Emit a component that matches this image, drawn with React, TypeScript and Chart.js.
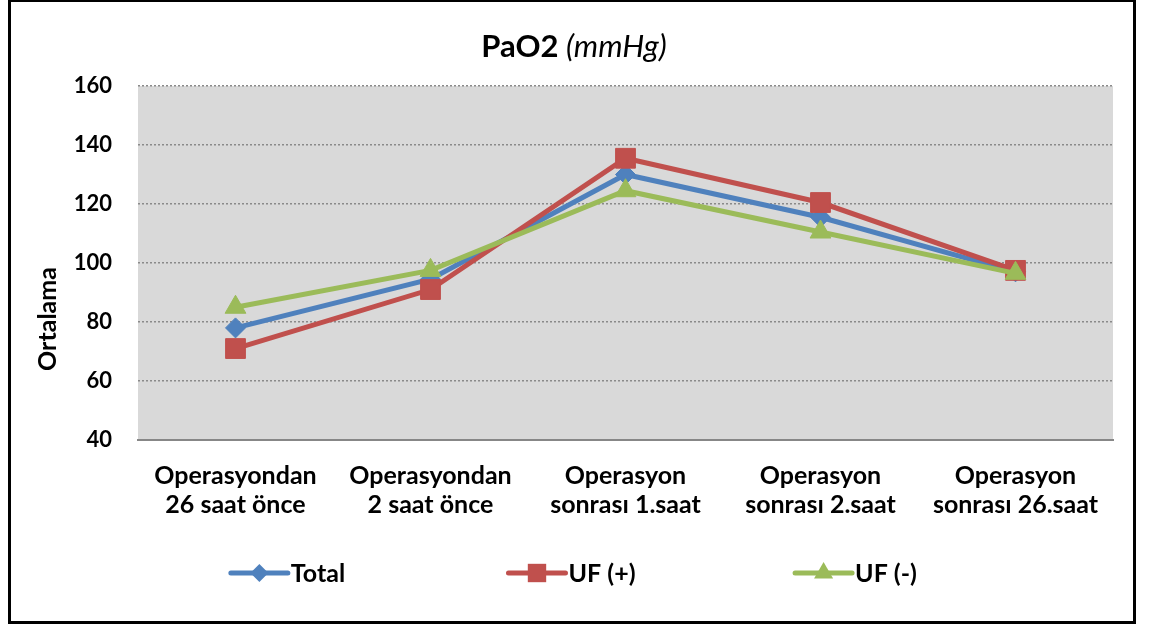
import React, { useEffect, useRef } from "react";
import { Chart, registerables } from "chart.js";

Chart.register(...registerables);

const categories: string[][] = [
  ["Operasyondan", "26 saat önce"],
  ["Operasyondan", "2 saat önce"],
  ["Operasyon", "sonrası 1.saat"],
  ["Operasyon", "sonrası 2.saat"],
  ["Operasyon", "sonrası 26.saat"],
];
const seriesNames = ["Total", "UF (+)", "UF (-)"];
const totalValues = [78, 94.5, 130, 115.5, 97];
const ufPlusValues = [71, 91, 135.5, 120.5, 97.5];
const ufMinusValues = [85, 97.5, 124.5, 110.5, 96.5];
const yMin = 40;
const yMax = 160;
const yStep = 20;
const titleMain = "PaO2";
const titleUnit = "(mmHg)";
const yAxisTitle = "Ortalama";

const BLUE = "#4F81BD";
const RED = "#C0504D";
const GREEN = "#9BBB59";
const FONT = "Lato, 'Open Sans', sans-serif";

const W = 1122;
const H = 619;

function drawMarker(ctx: CanvasRenderingContext2D, style: string, x: number, y: number, r: number) {
  ctx.beginPath();
  if (style === "rect") {
    const s = Math.SQRT1_2 * r;
    ctx.rect(x - s, y - s, 2 * s, 2 * s);
  } else if (style === "triangle") {
    ctx.moveTo(x, y - r);
    ctx.lineTo(x + 0.866 * r, y + 0.5 * r);
    ctx.lineTo(x - 0.866 * r, y + 0.5 * r);
    ctx.closePath();
  } else {
    ctx.moveTo(x, y - r);
    ctx.lineTo(x + r, y);
    ctx.lineTo(x, y + r);
    ctx.lineTo(x - r, y);
    ctx.closePath();
  }
  ctx.fill();
}

const customPlugin = {
  id: "customDecor",
  beforeDraw(chart: any) {
    const { ctx, chartArea } = chart;
    ctx.save();
    ctx.fillStyle = "#D9D9D9";
    ctx.fillRect(chartArea.left, chartArea.top, chartArea.right - chartArea.left, chartArea.bottom - chartArea.top);
    ctx.restore();
  },
  afterDraw(chart: any) {
    const { ctx } = chart;
    ctx.save();
    // Title
    ctx.fillStyle = "#000";
    ctx.textBaseline = "alphabetic";
    const boldFont = `bold 31px ${FONT}`;
    const italFont = `italic 31px ${FONT}`;
    ctx.font = boldFont;
    const w1 = ctx.measureText(titleMain + " ").width;
    ctx.font = italFont;
    const w2 = ctx.measureText(titleUnit).width;
    const startX = W / 2 - (w1 + w2) / 2 + 2;
    ctx.font = boldFont;
    ctx.textAlign = "left";
    ctx.fillText(titleMain + " ", startX, 55);
    ctx.font = italFont;
    ctx.fillText(titleUnit, startX + w1, 55);

    // Y axis title
    ctx.save();
    ctx.translate(37, 317);
    ctx.rotate(-Math.PI / 2);
    ctx.font = `bold 25px ${FONT}`;
    ctx.textAlign = "center";
    ctx.textBaseline = "middle";
    ctx.fillText(yAxisTitle, 0, 0);
    ctx.restore();

    // Legend
    const legendY = 571;
    const slotW = 284;
    const lineLen = 57;
    const gap = 3;
    ctx.font = `bold 25px ${FONT}`;
    chart.data.datasets.forEach((ds: any, i: number) => {
      const tw = ctx.measureText(ds.label).width;
      const itemW = lineLen + gap + tw;
      const slotCenter = W / 2 + (i - 1) * slotW;
      const x0 = slotCenter - itemW / 2;
      ctx.strokeStyle = ds.borderColor;
      ctx.lineWidth = 5;
      ctx.lineCap = "round";
      ctx.beginPath();
      ctx.moveTo(x0, legendY);
      ctx.lineTo(x0 + lineLen, legendY);
      ctx.stroke();
      ctx.fillStyle = ds.borderColor;
      const r = ds.pointStyle === "rect" ? 13 : ds.pointStyle === "triangle" ? 11 : 9;
      drawMarker(ctx, ds.pointStyle, x0 + lineLen / 2, legendY, r);
      ctx.fillStyle = "#000";
      ctx.textAlign = "left";
      ctx.textBaseline = "middle";
      ctx.fillText(ds.label, x0 + lineLen + gap, legendY + 1);
    });
    ctx.restore();
  },
};

export default function App() {
  const ref = useRef<HTMLCanvasElement | null>(null);
  useEffect(() => {
    if (!ref.current) return;
    const chart = new Chart(ref.current, {
      type: "line",
      data: {
        labels: categories,
        datasets: [
          {
            label: seriesNames[0],
            data: totalValues,
            borderColor: BLUE,
            backgroundColor: BLUE,
            borderWidth: 5,
            pointStyle: "rectRot",
            pointRadius: 10,
            pointBorderWidth: 1,
            tension: 0,
            order: 2,
          },
          {
            label: seriesNames[1],
            data: ufPlusValues,
            borderColor: RED,
            backgroundColor: RED,
            borderWidth: 5,
            pointStyle: "rect",
            pointRadius: 14,
            pointBorderWidth: 1,
            tension: 0,
            order: 1,
          },
          {
            label: seriesNames[2],
            data: ufMinusValues,
            borderColor: GREEN,
            backgroundColor: GREEN,
            borderWidth: 5,
            pointStyle: "triangle",
            pointRadius: 12,
            pointBorderWidth: 1,
            tension: 0,
            order: 0,
          },
        ],
      },
      options: {
        responsive: false,
        maintainAspectRatio: false,
        devicePixelRatio: 1,
        animation: false,
        layout: { padding: { left: 0, right: 20, top: 84, bottom: 81 } },
        plugins: {
          legend: { display: false },
          title: { display: false },
          tooltip: { enabled: false },
        },
        scales: {
          x: {
            offset: true,
            grid: { display: false, drawTicks: false, offset: true },
            border: { display: true, color: "#878787", width: 2 },
            ticks: {
              color: "#000",
              padding: 21,
              maxRotation: 0,
              autoSkip: false,
              font: { family: FONT, size: 25, weight: "bold", lineHeight: 1.16 },
            },
            afterFit: (scale: any) => {
              scale.height = 100;
            },
          },
          y: {
            min: yMin,
            max: yMax,
            ticks: {
              stepSize: yStep,
              color: "#000",
              padding: 26,
              font: { family: FONT, size: 22, weight: "bold" },
            },
            grid: { color: "#8a8a8a", lineWidth: 1.5, drawTicks: false },
            border: { display: false, dash: [2, 2] },
            afterFit: (scale: any) => {
              scale.width = 127;
            },
          },
        },
      },
      plugins: [customPlugin],
    } as any);
    return () => chart.destroy();
  }, []);

  return (
    <div
      style={{
        position: "absolute",
        left: 8,
        top: -1,
        width: W + 6,
        height: H + 6,
        border: "3px solid #000",
        boxSizing: "border-box",
        background: "#fff",
      }}
    >
      <canvas ref={ref} width={W} height={H} style={{ display: "block", width: W, height: H }} />
    </div>
  );
}
